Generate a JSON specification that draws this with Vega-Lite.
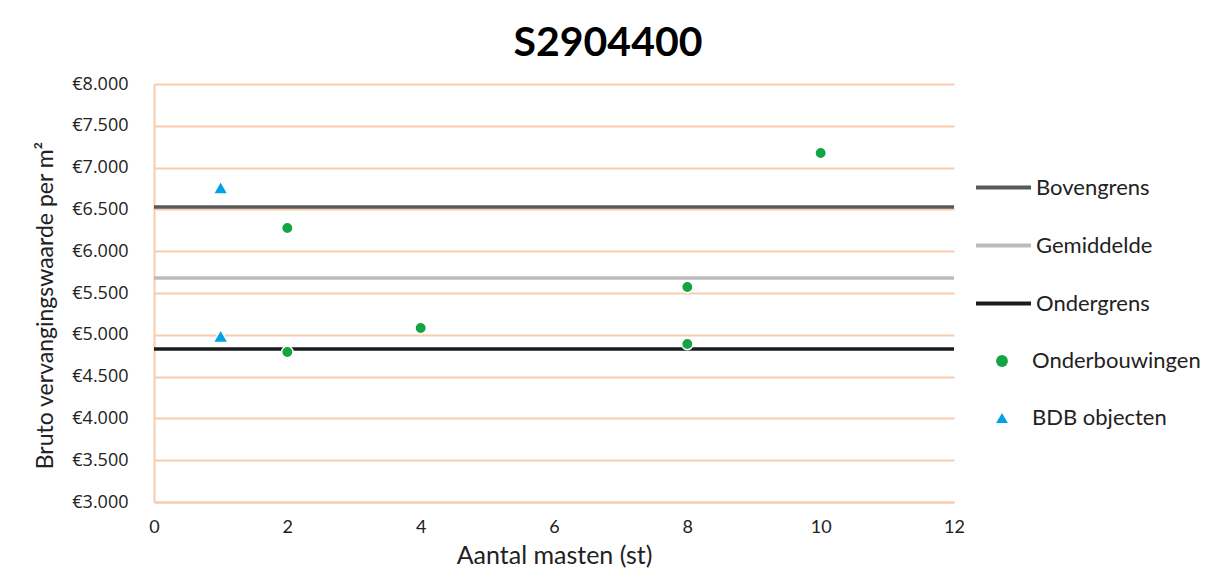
{
  "$schema": "https://vega.github.io/schema/vega-lite/v6.json",
  "width": 800,
  "height": 418,
  "autosize": "none",
  "padding": {"left": 154, "top": 84, "right": 261, "bottom": 74},
  "background": "white",
  "title": {"text": "S2904400", "font": "Lato", "fontSize": 41, "fontWeight": "bold", "color": "#000000", "anchor": "middle", "dx": 54, "offset": 10},
  "config": {"view": {"stroke": null}},
  "datasets": {
    "lines": [
      {"serie": "Bovengrens", "waarde": 6530},
      {"serie": "Gemiddelde", "waarde": 5680},
      {"serie": "Ondergrens", "waarde": 4830}
    ],
    "points": [
      {"serie": "Onderbouwingen", "masten": 2, "waarde": 6278},
      {"serie": "Onderbouwingen", "masten": 2, "waarde": 4794},
      {"serie": "Onderbouwingen", "masten": 4, "waarde": 5081},
      {"serie": "Onderbouwingen", "masten": 8, "waarde": 5572},
      {"serie": "Onderbouwingen", "masten": 8, "waarde": 4890},
      {"serie": "Onderbouwingen", "masten": 10, "waarde": 7175},
      {"serie": "BDB objecten", "masten": 1, "waarde": 6760},
      {"serie": "BDB objecten", "masten": 1, "waarde": 4985}
    ]
  },
  "layer": [
    {
      "data": {"name": "points"},
      "mark": {"type": "point", "opacity": 0, "size": 1},
      "encoding": {
        "x": {"field": "masten", "type": "quantitative", "scale": {"domain": [0, 12], "nice": false},
          "axis": {"values": [0, 2, 4, 6, 8, 10, 12], "format": "d", "title": "Aantal masten (st)", "grid": false, "domain": true, "domainColor": "#f8cbad", "domainWidth": 2, "ticks": false, "labelFont": "Lato", "labelFontSize": 18, "labelColor": "#222222", "labelPadding": 16, "titleFont": "Lato", "titleFontSize": 25, "titleFontWeight": "normal", "titleColor": "#222222", "titlePadding": 7, "labelFlush": false}},
        "y": {"field": "waarde", "type": "quantitative", "scale": {"domain": [3000, 8000], "nice": false, "zero": false},
          "axis": {"values": [3000, 3500, 4000, 4500, 5000, 5500, 6000, 6500, 7000, 7500, 8000], "format": ",.0f", "labelExpr": "'€' + replace(datum.label, ',', '.')", "title": "Bruto vervangingswaarde per m²", "grid": true, "gridColor": "#f8cbad", "gridWidth": 2, "domain": true, "domainColor": "#f8cbad", "domainWidth": 2, "ticks": false, "labelFont": "Open Sans", "labelFontSize": 18, "labelColor": "#222222", "labelPadding": 26, "titleFont": "Lato", "titleFontSize": 23, "titleFontWeight": "normal", "titleColor": "#222222", "titlePadding": 14, "titleY": 221}}
      }
    },
    {
      "data": {"name": "lines"},
      "mark": {"type": "rule", "strokeWidth": 3.5},
      "encoding": {
        "y": {"field": "waarde", "type": "quantitative"},
        "stroke": {"field": "serie", "type": "nominal",
          "scale": {"domain": ["Bovengrens", "Gemiddelde", "Ondergrens"], "range": ["#595959", "#bcbcbc", "#1c1c1c"]},
          "legend": {"title": null, "orient": "none", "legendX": 820, "legendY": 74, "symbolType": "stroke", "symbolSize": 3025, "symbolStrokeWidth": 4, "rowPadding": 17, "labelOffset": 3, "labelLimit": 300, "labelFont": "Lato", "labelFontSize": 22, "labelColor": "#222222", "padding": 0}}
      }
    },
    {
      "data": {"name": "points"},
      "transform": [{"filter": "datum.serie === 'Onderbouwingen'"}],
      "mark": {"type": "point", "filled": true, "size": 130, "stroke": "white", "strokeWidth": 1.5, "opacity": 1},
      "encoding": {
        "x": {"field": "masten", "type": "quantitative"},
        "y": {"field": "waarde", "type": "quantitative"},
        "fill": {"field": "serie", "type": "nominal",
          "scale": {"domain": ["Onderbouwingen", "BDB objecten"], "range": ["#13a543", "#00a2e2"]},
          "legend": {"title": null, "orient": "none", "legendX": 837, "legendY": 266, "symbolSize": 140, "symbolStrokeWidth": 0, "rowPadding": 35, "labelOffset": 19, "labelLimit": 300, "labelFont": "Lato", "labelFontSize": 22, "labelColor": "#222222", "padding": 0}},
        "shape": {"field": "serie", "type": "nominal",
          "scale": {"domain": ["Onderbouwingen", "BDB objecten"], "range": ["circle", "triangle-up"]}}
      }
    },
    {
      "data": {"name": "points"},
      "transform": [{"filter": "datum.serie === 'BDB objecten'"}],
      "mark": {"type": "point", "filled": true, "size": 220, "stroke": "white", "strokeWidth": 1.5, "opacity": 1},
      "encoding": {
        "x": {"field": "masten", "type": "quantitative"},
        "y": {"field": "waarde", "type": "quantitative"},
        "fill": {"field": "serie", "type": "nominal"},
        "shape": {"field": "serie", "type": "nominal"}
      }
    }
  ]
}
